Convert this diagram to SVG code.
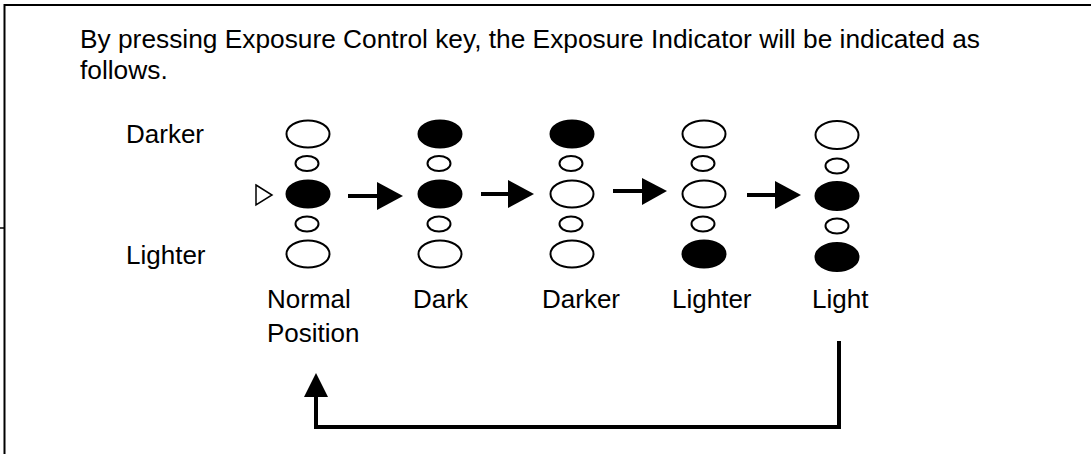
<svg xmlns="http://www.w3.org/2000/svg" width="1091" height="454" viewBox="0 0 1091 454">
<defs>
<style>
text{font-family:"Liberation Sans",Arial,sans-serif;font-size:26px;fill:#000}
.title{font-size:26.3px}
.big{stroke:#000;stroke-width:2}
.sm{stroke:#000;stroke-width:2;fill:#fff}
.on{fill:#000}
.off{fill:#fff}
.conn{stroke:#000;stroke-width:4;fill:none}
</style>
</defs>
<rect width="1091" height="454" fill="#fff"/>
<g id="frame" fill="none" stroke="#000">
<path d="M4.5 454 V5 H1091" stroke-width="2"/>
<path d="M0 228 H4" stroke-width="1.5"/>
</g>
<g id="title">
<text class="title" x="80" y="48">By pressing Exposure Control key, the Exposure Indicator will be indicated as</text>
<text class="title" x="80" y="79">follows.</text>
</g>
<g id="side-labels">
<text x="126" y="143">Darker</text>
<text x="126" y="264">Lighter</text>
</g>
<g id="pointer">
<polygon points="256,185 272,195 256,205" fill="#fff" stroke="#000" stroke-width="1.5"/>
</g>
<g id="normal">
<ellipse class="big off" cx="308" cy="134" rx="21.5" ry="13.5"/>
<ellipse class="sm" cx="307" cy="163.5" rx="11.5" ry="7.5"/>
<ellipse class="big on" cx="308" cy="194" rx="21.5" ry="13.5"/>
<ellipse class="sm" cx="307" cy="224" rx="11.5" ry="7.5"/>
<ellipse class="big off" cx="308" cy="254" rx="21.5" ry="13.5"/>
<text x="267" y="308">Normal</text>
<text x="267" y="342">Position</text>
</g>
<g id="dark">
<ellipse class="big on" cx="440" cy="134" rx="21.5" ry="13.5"/>
<ellipse class="sm" cx="439" cy="163.5" rx="11.5" ry="7.5"/>
<ellipse class="big on" cx="440" cy="194" rx="21.5" ry="13.5"/>
<ellipse class="sm" cx="439" cy="224" rx="11.5" ry="7.5"/>
<ellipse class="big off" cx="440" cy="254" rx="21.5" ry="13.5"/>
<text x="413" y="308">Dark</text>
</g>
<g id="darker">
<ellipse class="big on" cx="572" cy="134" rx="21.5" ry="13.5"/>
<ellipse class="sm" cx="571" cy="163.5" rx="11.5" ry="7.5"/>
<ellipse class="big off" cx="572" cy="194" rx="21.5" ry="13.5"/>
<ellipse class="sm" cx="571" cy="224" rx="11.5" ry="7.5"/>
<ellipse class="big off" cx="572" cy="254" rx="21.5" ry="13.5"/>
<text x="542" y="308">Darker</text>
</g>
<g id="lighter">
<ellipse class="big off" cx="704" cy="134" rx="21.5" ry="13.5"/>
<ellipse class="sm" cx="703" cy="163.5" rx="11.5" ry="7.5"/>
<ellipse class="big off" cx="704" cy="194" rx="21.5" ry="13.5"/>
<ellipse class="sm" cx="703" cy="224" rx="11.5" ry="7.5"/>
<ellipse class="big on" cx="704" cy="254" rx="21.5" ry="13.5"/>
<text x="672" y="308">Lighter</text>
</g>
<g id="light">
<ellipse class="big off" cx="837" cy="135" rx="21.5" ry="14"/>
<ellipse class="sm" cx="837" cy="166" rx="11.5" ry="7.5"/>
<ellipse class="big on" cx="837" cy="196" rx="21.5" ry="14"/>
<ellipse class="sm" cx="837" cy="226" rx="11.5" ry="7.5"/>
<ellipse class="big on" cx="837" cy="257" rx="21.5" ry="14"/>
<text x="812" y="308">Light</text>
</g>
<g id="connectors">
<path class="conn" d="M348 196 H380"/>
<polygon points="377,182 403,196 377,210"/>
<path class="conn" d="M481 194 H511"/>
<polygon points="508,180 534,194 508,208"/>
<path class="conn" d="M613 191 H645"/>
<polygon points="642,178 667,191 642,205"/>
<path class="conn" d="M747 195 H777"/>
<polygon points="775,181 801,195 775,209"/>
<path class="conn" d="M839 341 V427 H316 V394"/>
<polygon points="304,397 316,373 328,397"/>
</g>
</svg>
